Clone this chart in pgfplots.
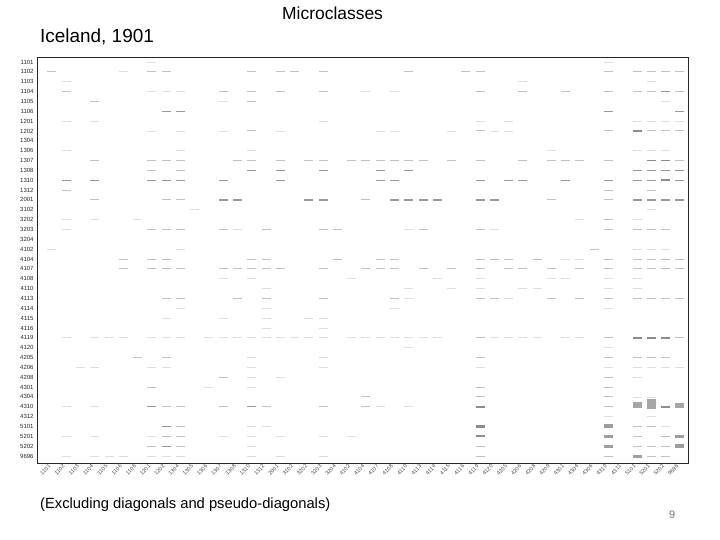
\documentclass[border=0pt]{standalone}
\usepackage{fontspec}
\setmainfont{Liberation Sans}
\usepackage{pgfplots}
\pgfplotsset{compat=1.18}
\begin{document}
\begin{tikzpicture}
\useasboundingbox (0,0) rectangle (720bp,540bp);
\node[anchor=base west, inner sep=0pt, font=\fontsize{17.5}{19}\selectfont] at (282bp,520bp) {Microclasses};
\node[anchor=base west, inner sep=0pt, font=\fontsize{19}{21}\selectfont] at (40bp,497bp) {Iceland, 1901};
\node[anchor=base west, inner sep=0pt, font=\fontsize{14.8}{16}\selectfont] at (40bp,32bp) {(Excluding diagonals and pseudo-diagonals)};
\node[anchor=base west, inner sep=0pt, text=black!55, font=\fontsize{11}{12}\selectfont] at (669bp,22bp) {9};
\begin{axis}[
    at={(37bp,77bp)}, anchor=south west,
    scale only axis, width=651bp, height=406bp,
    xmin=-1.05, xmax=44.57,
    y dir=reverse, ymin=-0.51, ymax=40.71,
    axis line style={black!85, line width=0.7pt},
    major tick length=0pt,
    xtick={0,...,44},
    xticklabels={1101,1102,1103,1104,1105,1106,1108,1201,1202,1304,1305,1306,1307,1308,1310,1312,2001,3102,3202,3203,3204,4102,4104,4107,4108,4110,4113,4114,4115,4116,4119,4120,4205,4206,4208,4209,4301,4304,4306,4310,4311,5101,5201,5202,9696},
    x tick label style={rotate=45, anchor=east, text=black!70, font=\fontsize{5.5}{6}\selectfont},
    ytick={0,...,40},
    yticklabels={1101,1102,1103,1104,1105,1106,1201,1202,1304,1306,1307,1308,1310,1312,2001,3102,3202,3203,3204,4102,4104,4107,4108,4110,4113,4114,4115,4116,4119,4120,4205,4206,4208,4301,4304,4310,4312,5101,5201,5202,9696},
    y tick label style={text=black!85, font=\fontsize{6}{7}\selectfont},
    every axis plot/.append style={only marks, mark=-, mark size=4.5bp},
]
% faint
\addplot[mark options={draw=black!13, line width=0.8bp}] coordinates {
(7,0) (39,0) (5,1) (1,2) (33,2) (42,2)
(7,3) (8,3) (9,3) (22,3) (24,3) (12,4) (43,4)
(1,6) (3,6) (19,6) (30,6) (32,6) (41,6) (42,6) (43,6) (44,6)
(7,7) (9,7) (12,7) (16,7) (23,7) (24,7) (28,7) (31,7) (32,7)
(1,9) (9,9) (14,9) (35,9) (41,9) (42,9) (43,9)
(10,15) (42,15) (1,16) (3,16) (6,16) (37,16) (41,16)
(1,17) (13,17) (25,17) (31,17)
(0,19) (9,19) (41,19) (42,19) (43,19) (36,20) (37,20)
(12,22) (14,22) (21,22) (27,22) (30,22) (35,22) (36,22) (39,22) (41,22)
(15,23) (25,23) (28,23) (30,23) (33,23) (34,23) (39,23) (41,23)
(25,24) (32,24) (9,25) (15,25) (24,25) (39,25)
(8,26) (12,26) (15,26) (18,26) (19,26) (15,27) (19,27)
(1,28) (3,28) (4,28) (5,28) (7,28) (8,28) (9,28) (11,28) (12,28) (13,28) (14,28) (15,28) (16,28) (17,28) (18,28) (19,28) (21,28) (22,28) (23,28) (24,28) (25,28) (26,28) (27,28) (31,28) (32,28) (33,28) (34,28) (36,28) (37,28)
(25,29) (39,29) (14,30) (19,30)
(2,31) (3,31) (7,31) (8,31) (14,31) (19,31) (30,31) (39,31) (41,31) (42,31) (43,31) (44,31)
(14,32) (16,32) (41,32) (11,33) (14,33) (41,34) (42,34)
(1,35) (3,35) (23,35) (25,35) (39,36) (42,36) (14,37) (15,37) (43,37)
(1,38) (3,38) (7,38) (12,38) (14,38) (16,38) (19,38) (21,38) (14,39)
(1,40) (3,40) (4,40) (5,40) (7,40) (8,40) (9,40) (14,40) (16,40) (19,40)
};
% light
\addplot[mark options={draw=black!24, line width=1bp}] coordinates {
(0,1) (7,1) (8,1) (14,1) (16,1) (17,1) (19,1) (25,1) (29,1) (30,1) (39,1) (41,1) (42,1) (43,1) (44,1)
(1,3) (12,3) (14,3) (16,3) (19,3) (30,3) (33,3) (36,3) (39,3) (41,3) (42,3) (44,3)
(3,4) (14,4) (14,7) (30,7) (39,7) (42,7) (43,7) (44,7)
(3,10) (7,10) (8,10) (9,10) (13,10) (14,10) (16,10) (18,10) (19,10) (21,10) (22,10) (23,10) (24,10) (25,10) (26,10) (28,10) (30,10) (33,10) (35,10) (36,10) (37,10) (39,10) (44,10)
(7,11) (9,11) (1,13) (39,13) (42,13)
(3,14) (8,14) (9,14) (22,14) (35,14) (39,14) (39,16)
(7,17) (8,17) (9,17) (12,17) (15,17) (19,17) (20,17) (26,17) (30,17) (39,17) (41,17) (42,17) (43,17)
(38,19)
(5,20) (7,20) (8,20) (14,20) (15,20) (20,20) (23,20) (24,20) (30,20) (31,20) (32,20) (34,20) (39,20) (41,20) (42,20) (43,20) (44,20)
(5,21) (7,21) (8,21) (9,21) (12,21) (13,21) (14,21) (15,21) (16,21) (19,21) (22,21) (23,21) (24,21) (26,21) (28,21) (30,21) (32,21) (33,21) (35,21) (37,21) (39,21) (41,21) (42,21) (43,21) (44,21)
(8,24) (9,24) (13,24) (15,24) (19,24) (24,24) (30,24) (31,24) (35,24) (37,24) (39,24) (41,24) (42,24) (43,24) (44,24)
(30,28) (39,28) (44,28)
(6,30) (8,30) (30,30) (39,30) (41,30) (42,30) (43,30)
(12,32) (39,32) (7,33) (30,33) (39,33) (22,34) (30,34) (39,34)
(8,35) (9,35) (12,35) (15,35) (19,35) (22,35) (39,35)
(9,37) (41,37) (42,37) (8,38) (9,38) (41,38) (43,38)
(7,39) (9,39) (30,39) (41,39) (42,39) (43,39)
(30,40) (39,40) (42,40) (43,40)
};
% medium
\addplot[mark options={draw=black!40, line width=1.2bp}] coordinates {
(43,3) (8,5) (9,5) (39,5) (44,5)
(14,11) (16,11) (19,11) (23,11) (25,11) (41,11) (42,11) (43,11) (44,11)
(1,12) (3,12) (7,12) (8,12) (9,12) (12,12) (16,12) (23,12) (24,12) (30,12) (32,12) (33,12) (36,12) (39,12) (41,12) (42,12) (44,12)
(12,14) (13,14) (18,14) (19,14) (24,14) (25,14) (26,14) (27,14) (30,14) (31,14) (41,14) (42,14) (43,14) (44,14)
(7,35) (14,35) (8,37) (8,39)
};
\addplot[mark options={draw=black!45, line width=1.5bp}] coordinates {
(42,10) (43,10) (43,12) (41,28) (42,28) (43,28)
};
% heavier blocks
\addplot[mark options={draw=black!45, line width=2bp}] coordinates {(43,35) (30,38)};
\addplot[mark options={draw=black!45, line width=2.5bp}] coordinates {(41,7) (30,35) (30,37)};
\addplot[mark options={draw=black!38, line width=3bp}] coordinates {(39,38) (44,38) (39,39) (41,40)};
\addplot[mark options={draw=black!38, line width=4bp, yshift=0.5bp}] coordinates {(39,37) (44,39)};
\addplot[mark options={draw=black!35, line width=5bp, yshift=1bp}] coordinates {(44,35)};
\addplot[mark options={draw=black!35, line width=6bp, yshift=1.5bp}] coordinates {(41,35)};
\addplot[mark options={draw=black!35, line width=10bp, yshift=3bp}] coordinates {(42,35)};
\end{axis}
\end{tikzpicture}
\end{document}
